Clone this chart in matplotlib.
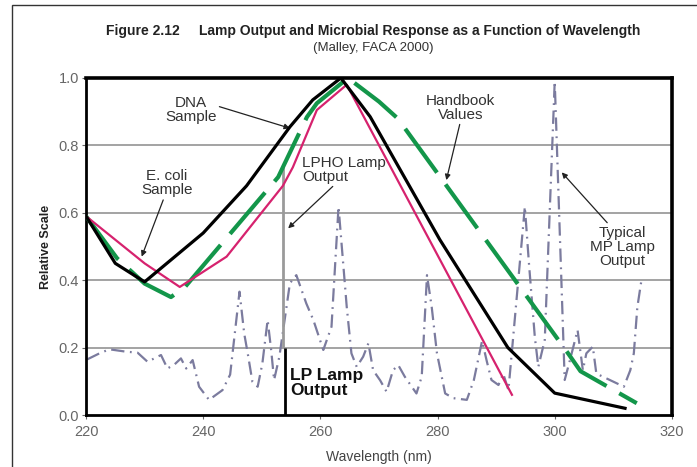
import matplotlib
matplotlib.use("Agg")
import matplotlib.pyplot as plt
from matplotlib.patches import Rectangle

plt.rcParams['font.family'] = ['Liberation Sans', 'DejaVu Sans']

# DNA sample (black)
dna_x = [220, 225, 230, 240, 247.4, 254.8, 258.7, 263.5, 268.5, 280.4, 292, 300, 312]
dna_y = [0.59, 0.45, 0.395, 0.54, 0.68, 0.855, 0.935, 1.0, 0.885, 0.52, 0.2, 0.065, 0.02]

# E. coli sample (pink)
eco_x = [220, 230, 236, 244, 253.6, 255.3, 259.4, 264.5, 292.7]
eco_y = [0.59, 0.45, 0.38, 0.47, 0.68, 0.735, 0.905, 0.98, 0.06]

# handbook values (green dashed)
hb_x = [220, 225.3, 230, 234.5, 236.9, 252.8, 257.7, 259.4, 264.7, 270, 273.2, 302.4, 304.4, 314]
hb_y = [0.59, 0.465, 0.39, 0.35, 0.38, 0.706, 0.884, 0.925, 1.0, 0.93, 0.88, 0.18, 0.13, 0.035]

# typical MP lamp output (dash-dot)
mp_x = [220.2, 222.3, 224.0, 226.8, 228.8, 230.5, 232.8, 233.9, 235.1, 236.2, 237.1,
        238.2, 239.3, 241.0, 243.3, 244.6, 246.2, 247.0, 247.6, 248.4, 249.3, 250.1,
        251.0, 251.6, 252.1, 253.0, 254.8, 255.9, 257.6, 258.8, 260.5, 261.9, 263.1,
        264.5, 265.3, 266.2, 267.3, 268.2, 269.0, 270.2, 271.3, 272.4, 273.3, 274.4,
        276.4, 277.3, 278.2, 279.0, 279.9, 281.3, 282.7, 285.0, 286.2, 287.6, 288.4,
        289.2, 290.4, 291.2, 292.1, 294.9, 295.6, 296.6, 297.2, 298.3, 300.0, 301.7,
        302.6, 303.9, 304.8, 305.4, 306.5, 307.1, 310.6, 311.8, 312.9, 313.5, 314.1,
        314.8]
mp_y = [0.165, 0.183, 0.195, 0.188, 0.185, 0.158, 0.178, 0.138, 0.15, 0.168, 0.138,
        0.163, 0.084, 0.045, 0.074, 0.12, 0.366, 0.242, 0.183, 0.099, 0.084, 0.153,
        0.282, 0.193, 0.104, 0.173, 0.391, 0.415, 0.331, 0.282, 0.193, 0.262, 0.618,
        0.321, 0.183, 0.143, 0.173, 0.213, 0.133, 0.103, 0.069, 0.133, 0.148, 0.114,
        0.064, 0.114, 0.415, 0.321, 0.183, 0.064, 0.05, 0.045, 0.104, 0.22, 0.16,
        0.104, 0.089, 0.123, 0.074, 0.618, 0.45, 0.232, 0.143, 0.223, 0.99, 0.104,
        0.163, 0.252, 0.133, 0.183, 0.203, 0.123, 0.094, 0.084, 0.133, 0.183, 0.32,
        0.40]

# LP / LPHO lamp lines
lp_x = 254.0
lpho_top = 0.74
lp_top = 0.2

x_ticks = [220, 240, 260, 280, 300, 320]
y_ticks = [0.0, 0.2, 0.4, 0.6, 0.8, 1.0]

fig = plt.figure(figsize=(6.97, 4.67), dpi=100)
ax = fig.add_axes([0.1234, 0.1113, 0.8406, 0.7217])

# outer frame of the figure
fig.patches.append(Rectangle((0.017, -0.1), 1.2, 1.089, transform=fig.transFigure,
                             fill=False, edgecolor='#333333', linewidth=1.0))

ax.set_xlim(220, 320)
ax.set_ylim(0, 1.0)
ax.set_xticks(x_ticks)
ax.set_yticks(y_ticks)
ax.set_yticklabels(['%.1f' % v for v in y_ticks])
ax.tick_params(colors='#666666', labelsize=10.5, length=3, width=0.8, pad=2)
ax.tick_params(axis='x', pad=4)
for t in ax.get_xticklabels() + ax.get_yticklabels():
    t.set_color('#666666')

for v in y_ticks[1:-1]:
    ax.axhline(v, color='#8a8a8a', linewidth=1.1, zorder=1)

for s in ['left', 'bottom']:
    ax.spines[s].set_linewidth(2.0)
for s in ['top', 'right']:
    ax.spines[s].set_linewidth(2.6)
for s in ax.spines.values():
    s.set_color('black')

ax.plot(mp_x, mp_y, color='#7b7b9e', linewidth=1.6,
        linestyle=(0, (6, 2.5, 0.8, 2.5)), zorder=2)
ax.vlines(lp_x - 0.3, lp_top, lpho_top, color='#9a9a9a', linewidth=2.0, zorder=3)
ax.vlines(lp_x, 0, lp_top, color='black', linewidth=2.0, zorder=3)
ax.plot(hb_x, hb_y, color='#13964a', linewidth=3.0,
        linestyle=(0, (13, 3.5)), zorder=4)
ax.plot(eco_x, eco_y, color='#d6226e', linewidth=1.6, zorder=5)
ax.plot(dna_x, dna_y, color='black', linewidth=2.3, zorder=6)

arrow = dict(arrowstyle='-|>', color='#222222', lw=0.9, mutation_scale=8,
             shrinkA=0, shrinkB=0)
ax.annotate('DNA\nSample', xy=(254.8, 0.851), xytext=(237.9, 0.905),
            ha='center', va='center', fontsize=11, linespacing=1.0,
            color='#333333', arrowprops=dict(arrow, relpos=(1.0, 0.65)))
ax.annotate('E. coli\nSample', xy=(229.5, 0.47), xytext=(233.8, 0.688),
            ha='center', va='center', fontsize=11, linespacing=1.0,
            color='#333333', arrowprops=dict(arrow, relpos=(0.45, 0.0)))
ax.annotate('LPHO Lamp\nOutput', xy=(254.5, 0.554), xytext=(256.9, 0.728),
            ha='left', va='center', fontsize=11, linespacing=1.0,
            color='#333333', arrowprops=dict(arrow, relpos=(0.4, 0.0)))
ax.annotate('Handbook\nValues', xy=(281.5, 0.697), xytext=(283.9, 0.912),
            ha='center', va='center', fontsize=11, linespacing=1.0,
            color='#333333', arrowprops=dict(arrow, relpos=(0.5, 0.0)))
ax.annotate('Typical\nMP Lamp\nOutput', xy=(301.2, 0.72), xytext=(311.6, 0.5),
            ha='center', va='center', fontsize=11, linespacing=1.0,
            color='#333333', arrowprops=dict(arrow, relpos=(0.3, 1.0)))
ax.text(254.8, 0.14, 'LP Lamp\nOutput', ha='left', va='top', fontsize=12.5,
        fontweight='bold', linespacing=1.0, color='#111111', zorder=7)

ax.set_xlabel('Wavelength (nm)', fontsize=10, color='#444444', labelpad=8)
ax.set_ylabel('Relative Scale', fontsize=9, fontweight='bold', color='#222222',
              labelpad=5)

fig.text(0.535, 0.934, 'Figure 2.12     Lamp Output and Microbial Response as a Function of Wavelength',
         ha='center', va='center', fontsize=10, fontweight='bold', color='#222222')
fig.text(0.535, 0.898, '(Malley, FACA 2000)', ha='center', va='center',
         fontsize=9.5, color='#333333')

fig.savefig('out.png', dpi=100)
